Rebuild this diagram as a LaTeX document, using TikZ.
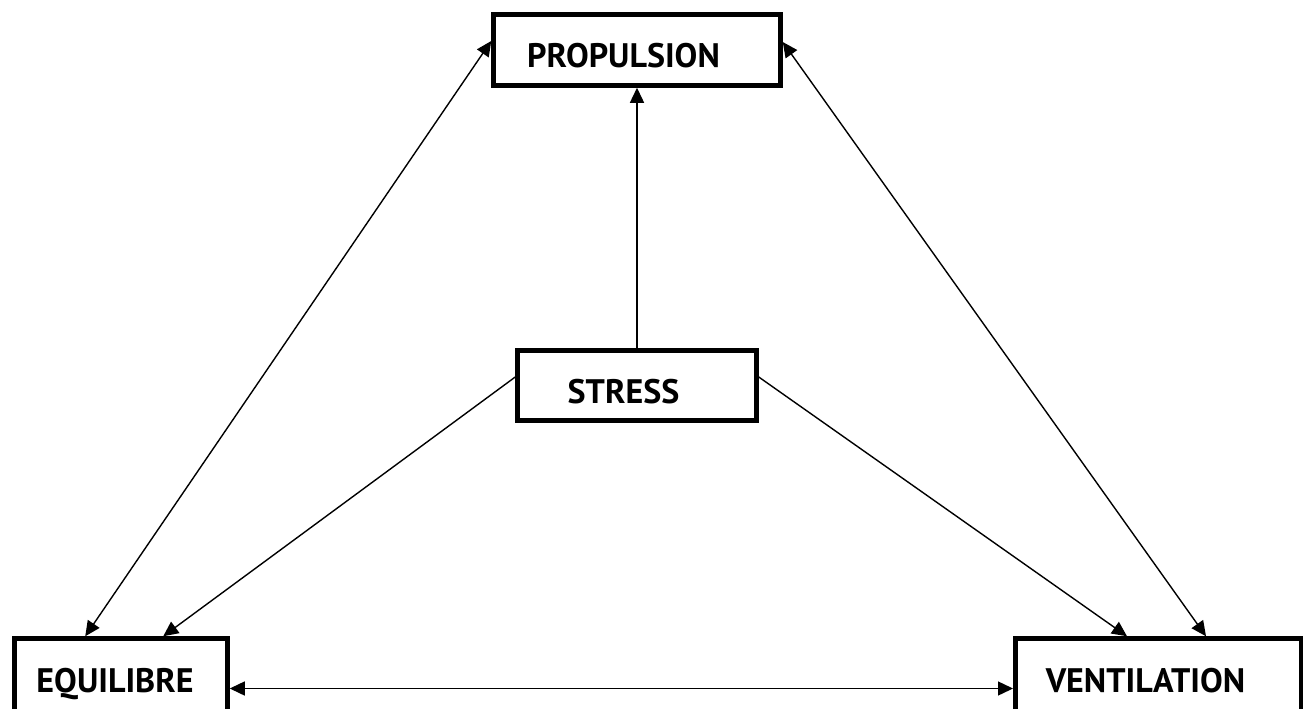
\documentclass[tikz,border=0pt]{standalone}
\usepackage{fontspec}
\setmainfont{PT Sans}
\usetikzlibrary{arrows.meta}
\tikzset{
  caja/.style={draw, line width=4.5pt, inner sep=0pt},
  etiq/.style={font=\fontsize{34}{34}\selectfont\bfseries, inner sep=0pt, anchor=base},
  punta/.tip={Triangle[length=15pt,width=14pt]},
  flecha/.style={line width=1.4pt, -punta},
  dflecha/.style={line width=1.4pt, punta-punta}
}
\begin{document}
\begin{tikzpicture}[x=1pt, y=-1pt]
    \useasboundingbox (0,0) rectangle (1304,709);
    % Cajas
    \foreach \nom/\xi/\yi/\w/\h in {
        prop/637/50/287/71, stress/637/385.5/239/70,
        equi/121/676.5/213/76, vent/1158/676.5/285.5/76}{
        \node[caja, minimum width=\w pt, minimum height=\h pt]
            (\nom) at (\xi,\yi) {};
    }
    % Textos
    \node[etiq] (prop-t)   at (623.5,68)  {PROPULSION};
    \node[etiq] (stress-t) at (623.5,403) {STRESS};
    \node[etiq] (equi-t)   at (115,692)   {EQUILIBRE};
    \node[etiq] (vent-t)   at (1145.5,692) {VENTILATION};
    % Flechas desde STRESS
    \draw[flecha] (stress.north) -- (prop.south);
    \draw[flecha] ([yshift=8.5pt]stress.west) -- ([xshift=151pt]equi.north west);
    \draw[flecha] ([yshift=8.5pt]stress.east) -- ([xshift=114pt]vent.north west);
    % Flechas dobles
    \draw[dflecha] ([yshift=9pt]prop.west) -- ([xshift=73pt]equi.north west);
    \draw[dflecha] ([yshift=8pt]prop.east) -- ([xshift=193pt]vent.north west);
    \draw[dflecha] ([yshift=-12pt]equi.east) -- ([yshift=-12pt]vent.west);
\end{tikzpicture}
\end{document}
